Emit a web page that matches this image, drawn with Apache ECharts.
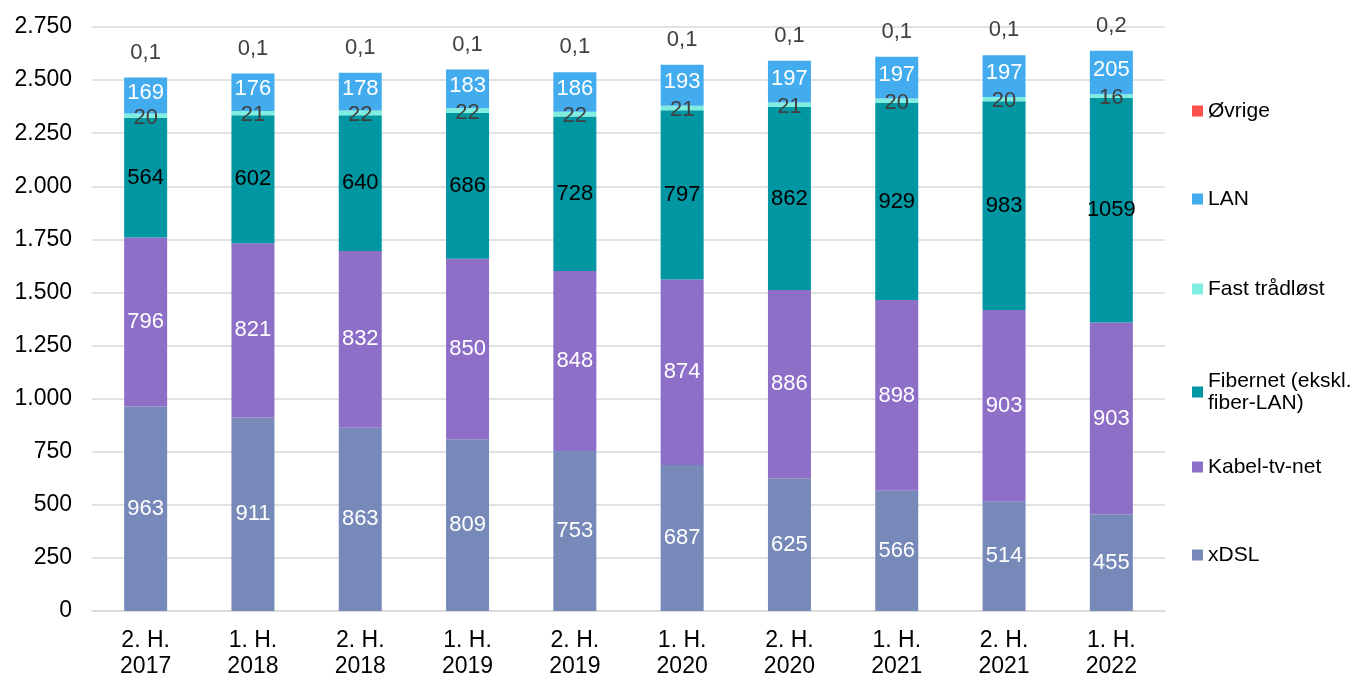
<!DOCTYPE html>
<html><head><meta charset="utf-8">
<script src="https://cdn.jsdelivr.net/npm/echarts@6/dist/echarts.min.js"></script>
<style>html,body{margin:0;padding:0;background:#fff}#c{width:1353px;height:680px}</style>
</head><body><div id="c"></div>
<script>
const categories = ['2. H.\n2017','1. H.\n2018','2. H.\n2018','1. H.\n2019','2. H.\n2019','1. H.\n2020','2. H.\n2020','1. H.\n2021','2. H.\n2021','1. H.\n2022'];
const xdsl = [963,911,863,809,753,687,625,566,514,455];
const kabel = [796,821,832,850,848,874,886,898,903,903];
const fiber = [564,602,640,686,728,797,862,929,983,1059];
const fast = [20,21,22,22,22,21,21,20,20,16];
const lan = [169,176,178,183,186,193,197,197,197,205];
const ovrige = [0.1,0.1,0.1,0.1,0.1,0.1,0.1,0.1,0.1,0.2];
const yTicks = {min:0, max:2750, interval:250};

const FONT = '"Liberation Sans", Arial, sans-serif';
function fmtAxis(v){
  return String(v).replace(/\B(?=(\d{3})+(?!\d))/g,'.');
}
function fmtLabel(v){
  return String(v).replace('.',',');
}
function ser(name, data, color, labelColor){
  return {
    name, type:'bar', stack:'a', data, barWidth:43,
    itemStyle:{color},
    label:{show:true, position:'inside', color:labelColor, fontSize:22, fontFamily:FONT, formatter:p=>fmtLabel(p.value)}
  };
}
const series = [
  ser('xDSL', xdsl, '#7789B8', '#fff'),
  ser('Kabel-tv-net', kabel, '#8E6FC8', '#fff'),
  ser('Fibernet (ekskl.\nfiber-LAN)', fiber, '#0096A2', '#000'),
  ser('Fast trådløst', fast, '#7FEEE0', '#404040'),
  ser('LAN', lan, '#42ACEE', '#fff'),
  ser('Øvrige', ovrige, '#FF5050', '#404040')
];
series[4].label.offset=[0,-3];
series[3].label.offset=[0,2];
series[5].label.position='top';
series[5].label.distance=14;

const legendNames = ['Øvrige','LAN','Fast trådløst','Fibernet (ekskl.\nfiber-LAN)','Kabel-tv-net','xDSL'];
const legendTops = [95,183,273,365,451,539];
const legends = legendNames.map((n,i)=>({
  data:[n], left:1187, top:legendTops[i], orient:'vertical', icon:'rect',
  itemWidth:11, itemHeight:11, itemGap:8,
  textStyle:{fontSize:21, fontFamily:FONT, color:'#000', lineHeight:22}
}));

const chart = echarts.init(document.getElementById('c'));
chart.setOption({
  animation:false,
  textStyle:{fontFamily:FONT},
  legend: legends,
  grid:{left:92, right:188, top:27, bottom:65},
  xAxis:{type:'category', data:categories,
    axisLine:{lineStyle:{color:'#d9d9d9', width:1.5}}, axisTick:{show:false},
    axisLabel:{fontSize:23, color:'#000', fontFamily:FONT, lineHeight:26, margin:17}},
  yAxis:{type:'value', min:yTicks.min, max:yTicks.max, interval:yTicks.interval,
    axisLine:{show:false}, axisTick:{show:false},
    splitLine:{lineStyle:{color:'#d9d9d9', width:1.5}},
    axisLabel:{fontSize:23, color:'#000', fontFamily:FONT, margin:20, formatter:v=>fmtAxis(v)}},
  series
});
</script></body></html>
